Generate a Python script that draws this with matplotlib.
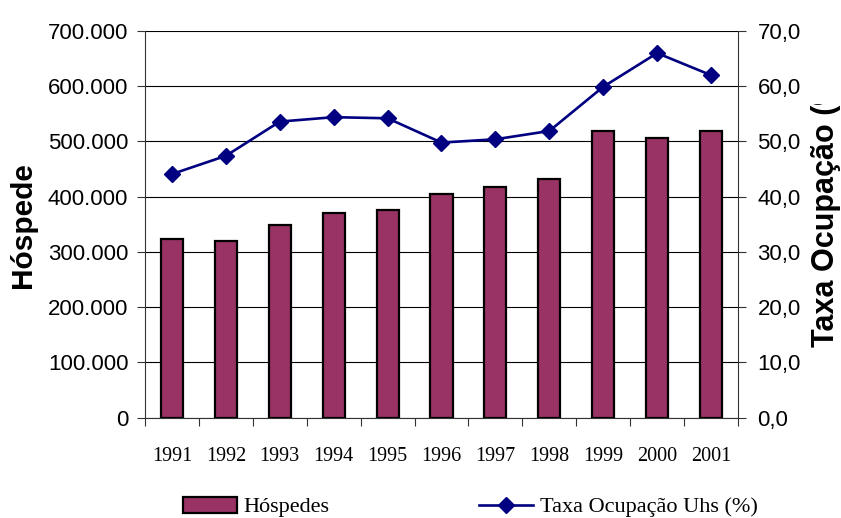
import matplotlib
matplotlib.use("Agg")
import matplotlib.pyplot as plt
from matplotlib.ticker import FuncFormatter
from matplotlib.transforms import Bbox, TransformedBbox
from matplotlib.lines import Line2D
from matplotlib.patches import Patch

years = ["1991", "1992", "1993", "1994", "1995", "1996", "1997", "1998", "1999", "2000", "2001"]
hospedes = [323500, 320000, 349500, 371000, 376500, 405000, 417000, 432500, 518500, 507000, 519500]
taxa = [44.1, 47.4, 53.6, 54.4, 54.2, 49.8, 50.4, 51.9, 59.9, 66.0, 62.0]

bar_color = "#993366"
line_color = "#000080"
sans = "Liberation Sans"
serif = "Liberation Serif"

W, H = 841, 518
fig = plt.figure(figsize=(W / 100, H / 100), dpi=100)
ax = fig.add_axes([145 / W, 1 - 417.7 / H, (738 - 145) / W, (417.7 - 31) / H])

x = list(range(len(years)))
ax.set_axisbelow(True)
ax.bar(x, hospedes, width=0.41, color=bar_color, edgecolor="black", linewidth=1.6, zorder=2)
ax.set_ylim(0, 700000)
ax.set_yticks(range(0, 700001, 100000))
ax.yaxis.set_major_formatter(FuncFormatter(lambda v, p: "0" if v == 0 else f"{int(v):,}".replace(",", ".")))
ax.grid(axis="y", color="black", linewidth=0.8)
ax.set_xlim(-0.5, len(years) - 0.5)
ax.set_xticks([i - 0.5 for i in range(len(years) + 1)])
ax.set_xticklabels([])
ax.set_xticks(x, minor=True)
ax.set_xticklabels(years, minor=True, fontfamily=serif, fontsize=14.5)
ax.tick_params(axis="x", which="major", direction="out", length=6, width=0.8, color="#333333")
ax.tick_params(axis="x", which="minor", length=0, pad=21)
ax.tick_params(axis="y", direction="out", length=6, width=0.8, color="#333333", pad=6, labelsize=16)
for lab in ax.get_yticklabels():
    lab.set_fontfamily(sans)
ax.spines["top"].set_visible(False)
ax.spines["right"].set_visible(False)
ax.spines["left"].set_color("#333333")
ax.spines["bottom"].set_color("#333333")

ax2 = ax.twinx()
ax2.plot(x, taxa, color=line_color, linewidth=1.9, marker="D", markersize=8.5, zorder=3)
ax2.set_ylim(0, 70)
ax2.set_yticks(range(0, 71, 10))
ax2.yaxis.set_major_formatter(FuncFormatter(lambda v, p: f"{v:.1f}".replace(".", ",")))
ax2.tick_params(axis="y", direction="out", length=6, width=0.8, color="#333333", pad=8, labelsize=16)
for lab in ax2.get_yticklabels():
    lab.set_fontfamily(sans)
for s in ["top", "left", "bottom"]:
    ax2.spines[s].set_visible(False)
ax2.spines["right"].set_color("#333333")

# axis titles, clipped as in the reference
t1 = fig.text(23 / W, 1 - 288 / H, "Hóspedes", rotation=90, ha="center", va="bottom",
              fontfamily=sans, fontweight="bold", fontsize=21.5)
t1.set_clip_on(True)
t1.set_clip_box(TransformedBbox(Bbox.from_extents(0, 0, 60 / W, 1 - 166 / H), fig.transFigure))

t2 = fig.text(826 / W, 1 - 347 / H, "Taxa Ocupação (%)", rotation=90, ha="center", va="bottom",
              fontfamily=sans, fontweight="bold", fontsize=22)
t2.set_clip_on(True)
t2.set_clip_box(TransformedBbox(Bbox.from_extents(800 / W, 0, 1, 1 - 104 / H), fig.transFigure))

handles = [Patch(facecolor=bar_color, edgecolor="black", linewidth=1.6),
           Line2D([], [], color=line_color, linewidth=1.9, marker="D", markersize=8.5)]
fig.legend(handles, ["Hóspedes", "Taxa Ocupação Uhs (%)"], loc="center",
           bbox_to_anchor=(470 / W, 1 - 507 / H), ncol=2, frameon=False,
           prop={"family": serif, "size": 16}, handlelength=2.45, handletextpad=0.3,
           columnspacing=6.7, handleheight=0.75)

fig.savefig("out.png", dpi=100)
